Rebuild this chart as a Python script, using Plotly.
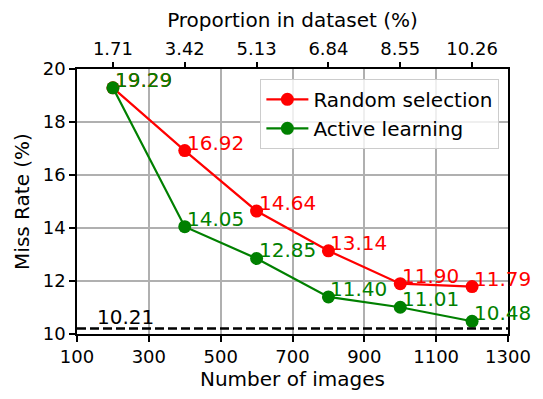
import plotly.graph_objects as go

# Number of labelled images used for training
num_images = [200, 400, 600, 800, 1000, 1200]
# Share of the full dataset for each training size (top axis labels)
proportion_labels = ["1.71", "3.42", "5.13", "6.84", "8.55", "10.26"]
# Miss rate (%) per strategy
random_selection = [19.29, 16.92, 14.64, 13.14, 11.90, 11.79]
active_learning = [19.29, 14.05, 12.85, 11.40, 11.01, 10.48]
# Miss rate with the full training set
full_set_rate = 10.21

FONT = "DejaVu Sans"
LABEL_FS = 20
TICK_FS = 18
RED = "#ff0000"
GREEN = "#008000"

fig = go.Figure()

for name, vals, col in [("Random selection", random_selection, RED),
                        ("Active learning", active_learning, GREEN)]:
    fig.add_trace(go.Scatter(
        x=num_images, y=vals, name=name, mode="lines+markers",
        line=dict(color=col, width=2.2),
        marker=dict(color=col, size=13),
    ))

# Reference line for the full training set
fig.add_trace(go.Scatter(
    x=[100, 1300], y=[full_set_rate, full_set_rate], mode="lines",
    line=dict(color="black", width=2.5, dash="9px,4px"), showlegend=False,
    hoverinfo="skip",
))

# Invisible trace to activate the top axis
fig.add_trace(go.Scatter(
    x=num_images, y=random_selection, xaxis="x2", mode="markers",
    marker=dict(opacity=0), showlegend=False, hoverinfo="skip",
))

annotations = []
for vals, col in [(random_selection, RED), (active_learning, GREEN)]:
    for x, v in zip(num_images, vals):
        annotations.append(dict(
            x=x, y=v, text=f"{v:.2f}", showarrow=False,
            xanchor="left", yanchor="bottom", yshift=-6, xshift=0,
            font=dict(color=col, size=LABEL_FS, family=FONT),
        ))
annotations.append(dict(
    x=150, y=full_set_rate, text=f"{full_set_rate:.2f}", showarrow=False,
    xanchor="left", yanchor="bottom", yshift=-3, xshift=0,
    font=dict(color="black", size=LABEL_FS, family=FONT),
))

fig.update_layout(
    width=543, height=399,
    margin=dict(l=77, r=27, t=69, b=62),
    plot_bgcolor="white", paper_bgcolor="white",
    font=dict(family=FONT, size=TICK_FS, color="black"),
    showlegend=True,
    legend=dict(
        x=0.98, y=0.963, xanchor="right", yanchor="top",
        bgcolor="rgba(255,255,255,0.8)", bordercolor="#cccccc", borderwidth=1,
        font=dict(size=LABEL_FS, family=FONT), tracegroupgap=0,
        itemwidth=42,
    ),
    xaxis=dict(
        range=[100, 1300], tickvals=list(range(100, 1301, 200)),
        showgrid=True, gridcolor="#b0b0b0", gridwidth=1.5,
        showline=True, linecolor="black", linewidth=1.6, mirror=True,
        ticks="outside", ticklen=6, tickwidth=1.6, tickcolor="black",
        zeroline=False, tickfont=dict(size=TICK_FS),
        title=dict(text="Number of images", font=dict(size=LABEL_FS), standoff=6),
    ),
    xaxis2=dict(
        overlaying="x", side="top", range=[100, 1300],
        tickvals=num_images, ticktext=proportion_labels,
        showgrid=False, zeroline=False, tickfont=dict(size=TICK_FS),
        ticks="outside", ticklen=6, tickwidth=1.6, tickcolor="black",
        title=dict(text="Proportion in dataset (%)", font=dict(size=LABEL_FS), standoff=4),
    ),
    yaxis=dict(
        range=[10, 20], tickvals=list(range(10, 21, 2)),
        showgrid=True, gridcolor="#b0b0b0", gridwidth=1.5,
        showline=True, linecolor="black", linewidth=1.6, mirror=True,
        ticks="outside", ticklen=6, tickwidth=1.6, tickcolor="black",
        zeroline=False, tickfont=dict(size=TICK_FS),
        title=dict(text="Miss Rate (%)", font=dict(size=LABEL_FS), standoff=8),
    ),
    annotations=annotations,
)

fig.write_html("out.html")
